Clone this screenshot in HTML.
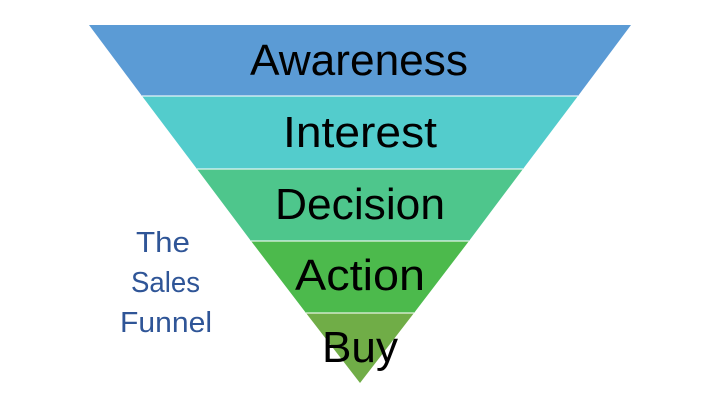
<!DOCTYPE html>
<html><head><style>html,body{margin:0;padding:0;background:#fff;}svg{display:block}</style></head>
<body>
<svg width="703" height="400" viewBox="0 0 703 400" xmlns="http://www.w3.org/2000/svg">
<polygon points="89,25 631,25 578,96 142,96" fill="#5B9BD5"/>
<polygon points="142,96 578,96 523,169 197,169" fill="#53CCCC"/>
<polygon points="197,169 523,169 469,241 251,241" fill="#4EC68C"/>
<polygon points="251,241 469,241 414,313 306,313" fill="#4CBA4C"/>
<polygon points="306,313 414,313 360,383" fill="#70AD47"/>
<g stroke="#fff" stroke-width="1.5" opacity="0.7">
<line x1="142" y1="96" x2="578" y2="96"/><line x1="197" y1="169" x2="523" y2="169"/>
<line x1="251" y1="241" x2="469" y2="241"/><line x1="306" y1="313" x2="414" y2="313"/>
</g>
<g font-family="Liberation Sans, sans-serif" font-size="44" fill="#000">
<text x="250" y="75" textLength="218" lengthAdjust="spacingAndGlyphs">Awareness</text>
<text x="283" y="147" textLength="154" lengthAdjust="spacingAndGlyphs">Interest</text>
<text x="275" y="219" textLength="170" lengthAdjust="spacingAndGlyphs">Decision</text>
<text x="295" y="290" textLength="130" lengthAdjust="spacingAndGlyphs">Action</text>
<text x="322" y="362" textLength="76" lengthAdjust="spacingAndGlyphs">Buy</text>
</g>
<g font-family="Liberation Sans, sans-serif" font-size="29" fill="#2F5597">
<text x="136" y="252" textLength="54" lengthAdjust="spacingAndGlyphs">The</text>
<text x="131" y="292" textLength="69" lengthAdjust="spacingAndGlyphs">Sales</text>
<text x="120" y="332" textLength="92" lengthAdjust="spacingAndGlyphs">Funnel</text>
</g>
</svg>
</body></html>
